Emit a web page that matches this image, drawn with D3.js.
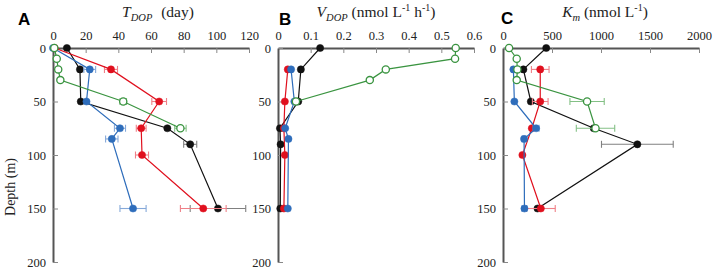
<!DOCTYPE html>
<html>
<head>
<meta charset="utf-8">
<script src="https://cdn.jsdelivr.net/npm/d3@7"></script>
<style>
  body { margin: 0; background: #fff; }
  svg text { font-family: "Liberation Serif", "Times New Roman", serif; }
</style>
</head>
<body>
<script>
// depths sampled at each station (m)
var depthsBlack = [0, 20, 50, 75, 90, 150];
var depthsRed   = [0, 20, 50, 75, 100, 150];
var depthsBlue  = [0, 20, 50, 75, 85, 150];
var depthsGreen = [0, 10, 20, 30, 50, 75];

// panel A: T_DOP (day)
var tdopBlack = [8.5, 16.5, 17, 70, 84, 101];
var tdopBlackErr = [0, 0, 0, 0, 4, 17];
var tdopRed = [1, 35.5, 65, 54, 54.5, 92];
var tdopRedErr = [0, 4, 4.5, 3, 4, 14];
var tdopBlue = [0, 22.5, 20.5, 41, 36, 49];
var tdopBlueErr = [0, 3.6, 0, 3.4, 3.8, 8];
var tdopGreen = [0.8, 2.3, 3.2, 4.5, 43, 78];
var tdopGreenErr = [0, 0, 0, 0, 2, 3.5];

// panel B: V_DOP (nmol L-1 h-1)
var vdopBlack = [0.129, 0.07, 0.062, 0.006, 0.008, 0.007];
var vdopRed = [null, 0.03, 0.021, 0.018, 0.021, 0.018];
var vdopBlue = [null, 0.04, 0.05, 0.022, 0.032, 0.03];
var vdopGreen = [0.544, 0.542, 0.33, 0.281, 0.055, null];

// panel C: Km (nmol L-1)
var kmBlack = [441, 208, 284, 926, 1371, 352];
var kmBlackErr = [0, 0, 0, 0, 366, 0];
var kmRed = [null, 380, 380, 294, 198, 386];
var kmRedErr = [0, 90, 80, 0, 0, 147];
var kmBlue = [null, 106, 116, 338, 215, 219];
var kmBlueErr = [0, 15, 0, 30, 20, 25];
var kmGreen = [62, 140, 147, 140, 858, 944];
var kmGreenErr = [0, 0, 0, 0, 175, 196];

var tdopTicks = [0, 20, 40, 60, 80, 100, 120];
var vdopTicks = [0, 0.1, 0.2, 0.3, 0.4, 0.5, 0.6];
var kmTicks = [0, 500, 1000, 1500, 2000];
var depthTicks = [0, 50, 100, 150, 200];

var colors = {black: "#111111", red: "#e0101e", blue: "#2e6dbb", green: "#3a9440"};
var errColors = {black: "#808080", red: "#ef8088", blue: "#86a9d9", green: "#84c086"};

var svg = d3.select("body").append("svg")
    .attr("width", 715)
    .attr("height", 269);

var y = d3.scaleLinear().domain([0, 200]).range([48, 262]);

function series(name, depths, vals, errs) {
  return depths.map(function(d, i) {
    return {depth: d, v: vals[i], e: errs ? errs[i] : 0};
  }).filter(function(p) { return p.v != null; })
    .map(function(p) { p.name = name; return p; });
}

var panels = [
  {x0: 53, max: 120, ticks: tdopTicks, letter: "A", lx: 18, ly: 25,
   data: [series("black", depthsBlack, tdopBlack, tdopBlackErr),
          series("red", depthsRed, tdopRed, tdopRedErr),
          series("blue", depthsBlue, tdopBlue, tdopBlueErr),
          series("green", depthsGreen, tdopGreen, tdopGreenErr)]},
  {x0: 278, max: 0.6, ticks: vdopTicks, letter: "B", lx: 279, ly: 25,
   data: [series("black", depthsBlack, vdopBlack),
          series("red", depthsRed, vdopRed),
          series("blue", depthsBlue, vdopBlue),
          series("green", depthsGreen, vdopGreen)]},
  {x0: 503, max: 2000, ticks: kmTicks, letter: "C", lx: 501, ly: 24,
   data: [series("black", depthsBlack, kmBlack, kmBlackErr),
          series("red", depthsRed, kmRed, kmRedErr),
          series("blue", depthsBlue, kmBlue, kmBlueErr),
          series("green", depthsGreen, kmGreen, kmGreenErr)]}
];

panels.forEach(function(p) {
  var x = d3.scaleLinear().domain([0, p.max]).range([p.x0, p.x0 + 196]);
  var g = svg.append("g");

  // axes, ticks point inward
  var xAxis = g.append("g")
      .attr("transform", "translate(0,48)")
      .call(d3.axisTop(x).tickValues(p.ticks).tickFormat(d3.format("~g"))
            .tickSize(-5).tickSizeOuter(0).tickPadding(8));
  var yAxis = g.append("g")
      .attr("transform", "translate(" + p.x0 + ",0)")
      .call(d3.axisLeft(y).tickValues(depthTicks)
            .tickSize(-5).tickSizeOuter(0).tickPadding(7));
  [xAxis, yAxis].forEach(function(a) {
    a.attr("font-family", "Liberation Serif, serif").attr("font-size", 12.5);
    a.select(".domain").attr("stroke", "#555").attr("stroke-width", 2);
    a.selectAll(".tick line").attr("stroke", "#888").attr("stroke-width", 1);
    a.selectAll(".tick text").attr("fill", "#222");
  });

  var line = d3.line()
      .x(function(d) { return x(d.v); })
      .y(function(d) { return y(d.depth); });

  p.data.forEach(function(s) {
    var name = s[0].name;
    var c = colors[name], ec = errColors[name];

    // error bars
    var eb = g.append("g").attr("stroke", ec).attr("stroke-width", 1.1);
    s.filter(function(d) { return d.e > 0; }).forEach(function(d) {
      var yy = y(d.depth), x1 = x(d.v - d.e), x2 = x(d.v + d.e);
      eb.append("line").attr("x1", x1).attr("x2", x2).attr("y1", yy).attr("y2", yy);
      eb.append("line").attr("x1", x1).attr("x2", x1).attr("y1", yy - 3.5).attr("y2", yy + 3.5);
      eb.append("line").attr("x1", x2).attr("x2", x2).attr("y1", yy - 3.5).attr("y2", yy + 3.5);
    });

    g.append("path")
      .datum(s)
      .attr("d", line)
      .attr("fill", "none")
      .attr("stroke", c)
      .attr("stroke-width", 1.2);

    g.selectAll(null)
      .data(s)
      .enter().append("circle")
      .attr("cx", function(d) { return x(d.v); })
      .attr("cy", function(d) { return y(d.depth); })
      .attr("r", 3.6)
      .attr("fill", name == "green" ? "#fff" : c)
      .attr("stroke", c)
      .attr("stroke-width", name == "green" ? 1.3 : 0.5);
  });

  // panel letter
  svg.append("text")
    .attr("x", p.lx).attr("y", p.ly)
    .style("font-family", "'Liberation Sans', Arial, sans-serif")
    .attr("font-weight", "bold")
    .attr("font-size", 17)
    .text(p.letter);
});

// panel titles
function title(cx, main, sub, parts) {
  var t = svg.append("text")
    .attr("x", cx).attr("y", 17)
    .attr("text-anchor", "middle")
    .attr("font-size", 15.5)
    .attr("fill", "#222");
  t.append("tspan").attr("font-style", "italic").text(main);
  t.append("tspan").attr("font-style", "italic").attr("font-size", 10.5).attr("dy", 4).text(sub);
  parts.forEach(function(pt, i) {
    var ts = t.append("tspan").text(pt.t);
    if (pt.sup) ts.attr("font-size", 10).attr("dy", -6);
    else ts.attr("dy", i == 0 ? -4 : 6);
    if (pt.dx) ts.attr("dx", pt.dx);
  });
}
title(158, "T", "DOP", [{t: " (day)", dx: 5}]);
title(376, "V", "DOP", [{t: " (nmol L"}, {t: "-1", sup: true}, {t: " h"}, {t: "-1", sup: true}, {t: ")"}]);
title(605, "K", "m", [{t: " (nmol L"}, {t: "-1", sup: true}, {t: ")"}]);

// y label
svg.append("text")
  .attr("transform", "translate(15,187) rotate(-90)")
  .attr("text-anchor", "middle")
  .attr("font-size", 14)
  .attr("fill", "#222")
  .text("Depth (m)");
</script>
</body>
</html>
